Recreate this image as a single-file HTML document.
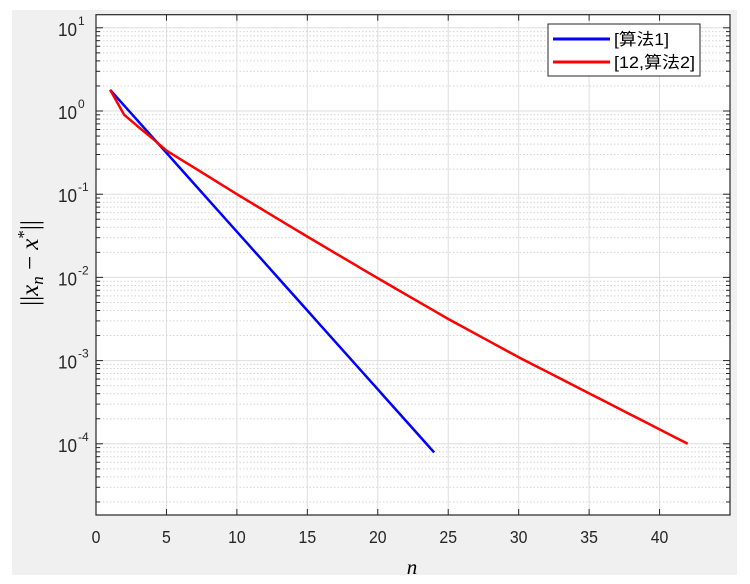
<!DOCTYPE html>
<html><head><meta charset="utf-8"><style>
html,body{margin:0;padding:0;background:#fff;width:750px;height:584px;overflow:hidden}
svg{display:block}
text{font-family:"Liberation Sans","Noto Sans CJK SC",sans-serif}
</style></head><body>
<svg id="s" width="750" height="584" xmlns="http://www.w3.org/2000/svg">
<rect x="12" y="10" width="725" height="565" fill="#f0f0f0"/>
<rect x="96" y="14.7" width="634" height="500.3" fill="#fff"/>
<g id="grid"></g>
<g id="data"></g>
<rect x="96" y="14.7" width="634" height="500.3" fill="none" stroke="#262626" stroke-width="1.2"/>
<g id="ticks"></g>
<rect x="548" y="24" width="152" height="52" fill="#fff" stroke="#262626" stroke-width="1"/>
<line x1="553" y1="39" x2="610" y2="39" stroke="#0000ff" stroke-width="3"/>
<line x1="553" y1="62" x2="610" y2="62" stroke="#ff0000" stroke-width="3"/>
<text x="614" y="45" font-size="16.5" fill="#000" textLength="55" lengthAdjust="spacingAndGlyphs">[算法1]</text>
<text x="614" y="68" font-size="16.5" fill="#000" textLength="81" lengthAdjust="spacingAndGlyphs">[12,算法2]</text>
<text x="412" y="574" font-size="21" font-style="italic" text-anchor="middle" style="font-family:'Liberation Serif',serif">n</text>
<text transform="translate(38,263) rotate(-90)" font-size="25" text-anchor="middle" style="font-family:'Liberation Serif',serif">||<tspan font-style="italic">x</tspan><tspan font-style="italic" font-size="17" dy="5">n</tspan><tspan dy="-5"> − </tspan><tspan font-style="italic">x</tspan><tspan font-size="17" dy="-9">*</tspan><tspan dy="9">||</tspan></text>
</svg>
<script>
var L=96,R=730,T=14.7,B=515,U=(R-L)/45,Y0=111,D=83.2;
function X(n){return L+n*U}function Y(v){return Y0-Math.log10(v)*D}
var g='',t='';
for(var n=5;n<45;n+=5){g+='<line x1="'+X(n)+'" y1="'+T+'" x2="'+X(n)+'" y2="'+B+'" stroke="#dedede" stroke-width="1"/>';
t+='<line x1="'+X(n)+'" y1="'+B+'" x2="'+X(n)+'" y2="'+(B-6)+'" stroke="#262626"/><line x1="'+X(n)+'" y1="'+T+'" x2="'+X(n)+'" y2="'+(T+6)+'" stroke="#262626"/>';}
for(var n=0;n<45;n+=5)t+='<text x="'+X(n)+'" y="543" font-size="18" text-anchor="middle" fill="#262626" transform="translate('+X(n)+',0) scale(0.88,1) translate('+(-X(n))+',0)">'+n+'</text>';
for(var e=-5;e<=1;e++){for(var m=1;m<10;m++){var y=Y(m*Math.pow(10,e));if(y<T||y>B)continue;
if(m==1){g+='<line x1="'+L+'" y1="'+y+'" x2="'+R+'" y2="'+y+'" stroke="#dedede"/>';
t+='<line x1="'+L+'" y1="'+y+'" x2="'+(L+7)+'" y2="'+y+'" stroke="#262626"/><line x1="'+R+'" y1="'+y+'" x2="'+(R-7)+'" y2="'+y+'" stroke="#262626"/>';
t+='<text x="77" y="'+(y+8)+'" font-size="18" text-anchor="end" fill="#262626" textLength="19" lengthAdjust="spacingAndGlyphs">10</text><text x="78" y="'+(y-3)+'" font-size="12" fill="#262626">'+e+'</text>';}
else{g+='<line x1="'+L+'" y1="'+y+'" x2="'+R+'" y2="'+y+'" stroke="#d4d4d4" stroke-dasharray="1.5,2"/>';
t+='<line x1="'+L+'" y1="'+y+'" x2="'+(L+4)+'" y2="'+y+'" stroke="#262626"/><line x1="'+R+'" y1="'+y+'" x2="'+(R-4)+'" y2="'+y+'" stroke="#262626"/>';}}}
document.getElementById('grid').innerHTML=g;document.getElementById('ticks').innerHTML=t;
var b=[],r=[];
for(var n=1;n<=24;n++){b.push(X(n)+','+Y(Math.pow(10,0.255-0.1895*(n-1))));}
var K=[[1,0.255],[2,-0.046],[3,-0.19],[4,-0.33],[5,-0.475],[10,-1.0],[15,-1.51],[20,-2.01],[25,-2.5],[30,-2.96],[42,-4.0]];
for(var n=1;n<=42;n++){var lv;for(var i=0;i<K.length-1;i++){if(n>=K[i][0]&&n<=K[i+1][0]){lv=K[i][1]+(K[i+1][1]-K[i][1])*(n-K[i][0])/(K[i+1][0]-K[i][0]);break;}}
r.push(X(n)+','+Y(Math.pow(10,lv)));}
document.getElementById('data').innerHTML='<polyline points="'+b.join(' ')+'" fill="none" stroke="#0000ff" stroke-width="2.5"/><polyline points="'+r.join(' ')+'" fill="none" stroke="#ff0000" stroke-width="2.5"/>';
</script>
</body></html>
